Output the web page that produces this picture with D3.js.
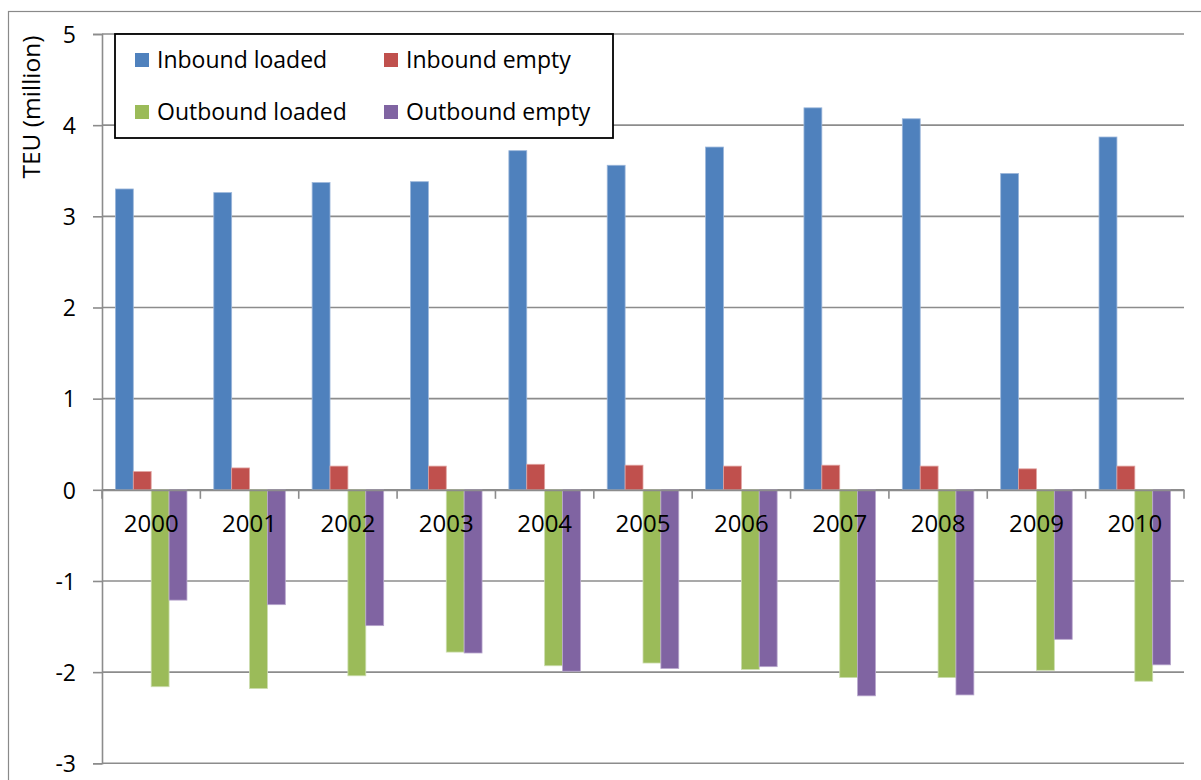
<!DOCTYPE html>
<html>
<head>
<meta charset="utf-8">
<script src="https://cdn.jsdelivr.net/npm/d3@7"></script>
<style>
  html, body { margin: 0; padding: 0; background: #fff; }
  svg { display: block; }
  text { font-family: "Open Sans", "Liberation Sans", sans-serif; fill: #000; }
</style>
</head>
<body>
<svg id="chart" width="1201" height="780"></svg>
<script>
const years = ["2000","2001","2002","2003","2004","2005","2006","2007","2008","2009","2010"];
const seriesNames = ["Inbound loaded","Inbound empty","Outbound loaded","Outbound empty"];
const seriesColors = ["#4F81BD","#C0504D","#9BBB59","#8064A2"];
const seriesBorders = ["#9BB6DA","#E0A3A1","#CCDDAE","#B8A7CD"];
const inboundLoaded  = [3.30, 3.26, 3.37, 3.38, 3.72, 3.56, 3.76, 4.19, 4.07, 3.47, 3.87];
const inboundEmpty   = [0.20, 0.24, 0.26, 0.26, 0.28, 0.27, 0.26, 0.27, 0.26, 0.23, 0.26];
const outboundLoaded = [-2.16, -2.18, -2.04, -1.78, -1.93, -1.90, -1.97, -2.06, -2.06, -1.98, -2.10];
const outboundEmpty  = [-1.21, -1.26, -1.49, -1.79, -1.99, -1.96, -1.94, -2.26, -2.25, -1.64, -1.92];
const yTicks = [-3, -2, -1, 0, 1, 2, 3, 4, 5];
const yTitle = "TEU (million)";

const seriesValues = [inboundLoaded, inboundEmpty, outboundLoaded, outboundEmpty];
const data = years.map((yr, i) => ({year: yr, values: seriesValues.map((s, k) => ({k, v: s[i]}))}));

const svg = d3.select("#chart");
const plotL = 102, plotR = 1184, plotT = 34, plotB = 763.3;

// outer chart border (only top and left visible)
svg.append("rect").attr("x", 8.5).attr("y", 11.5).attr("width", 1300).attr("height", 900)
  .attr("fill", "#fff").attr("stroke", "#8a8a8a").attr("stroke-width", 1.2);

const y = d3.scaleLinear().domain([-3, 5]).range([plotB, plotT]);
const x0 = d3.scaleBand().domain(years).range([plotL, plotR]).padding(0);
const bw = x0.bandwidth();
const groupW = bw * 4 / 5.5;
const x1 = d3.scaleBand().domain(d3.range(4)).range([(bw - groupW) / 2, (bw + groupW) / 2]).padding(0);

// gridlines
svg.append("g").selectAll("line").data(yTicks).join("line")
  .attr("x1", plotL).attr("x2", plotR)
  .attr("y1", d => y(d)).attr("y2", d => y(d))
  .attr("stroke", "#8c8c8c").attr("stroke-width", 1.6);

// y axis
const yAxis = d3.axisLeft(y).tickValues(yTicks).tickSize(9).tickPadding(17).tickFormat(d => String(d));
const gy = svg.append("g").attr("transform", `translate(${plotL},0)`).call(yAxis);
gy.select(".domain").attr("stroke", "#8c8c8c").attr("stroke-width", 1.6);
gy.selectAll(".tick line").attr("stroke", "#8c8c8c").attr("stroke-width", 1.6);
gy.selectAll(".tick text").style("font-family", "'Open Sans', sans-serif").style("font-size", "23px").attr("fill", "#000").attr("dy", "0.36em");

// bars
const groups = svg.append("g").selectAll("g").data(data).join("g")
  .attr("transform", d => `translate(${x0(d.year)},0)`);
groups.selectAll("rect").data(d => d.values).join("rect")
  .attr("x", d => x1(d.k))
  .attr("width", x1.bandwidth())
  .attr("y", d => y(Math.max(0, d.v)))
  .attr("height", d => Math.abs(y(d.v) - y(0)))
  .attr("fill", d => seriesColors[d.k])
  .attr("stroke", d => seriesBorders[d.k])
  .attr("stroke-width", 0.8);

// x axis at zero
const xAxis = d3.axisBottom(x0).tickSize(0).tickPadding(25);
const gx = svg.append("g").attr("transform", `translate(0,${y(0)})`).call(xAxis);
gx.select(".domain").attr("stroke", "#8c8c8c").attr("stroke-width", 1.8);
gx.selectAll(".tick text").style("font-family", "'Open Sans', sans-serif").style("font-size", "24px").attr("fill", "#000");
// category boundary tick marks
gx.append("g").selectAll("line").data(years.concat(["end"])).join("line")
  .attr("x1", (d, i) => plotL + i * bw).attr("x2", (d, i) => plotL + i * bw)
  .attr("y1", 0).attr("y2", 9)
  .attr("stroke", "#8c8c8c").attr("stroke-width", 1.6);

// y title
svg.append("text")
  .attr("transform", `translate(40,${107}) rotate(-90)`)
  .attr("text-anchor", "middle")
  .style("font-size", "24.5px")
  .text(yTitle);

// legend
const lg = svg.append("g");
lg.append("rect").attr("x", 115).attr("y", 34).attr("width", 498).attr("height", 104)
  .attr("fill", "#fff").attr("stroke", "#000").attr("stroke-width", 1.8);
const legendPos = [[135, 60], [384, 60], [135, 112], [384, 112]];
seriesNames.forEach((name, k) => {
  const [lx, ly] = legendPos[k];
  lg.append("rect").attr("x", lx).attr("y", ly - 7).attr("width", 14).attr("height", 14)
    .attr("fill", seriesColors[k]);
  lg.append("text").attr("x", lx + 22).attr("y", ly).attr("dy", "0.36em")
    .style("font-size", "23px").text(name);
});
</script>
</body>
</html>
